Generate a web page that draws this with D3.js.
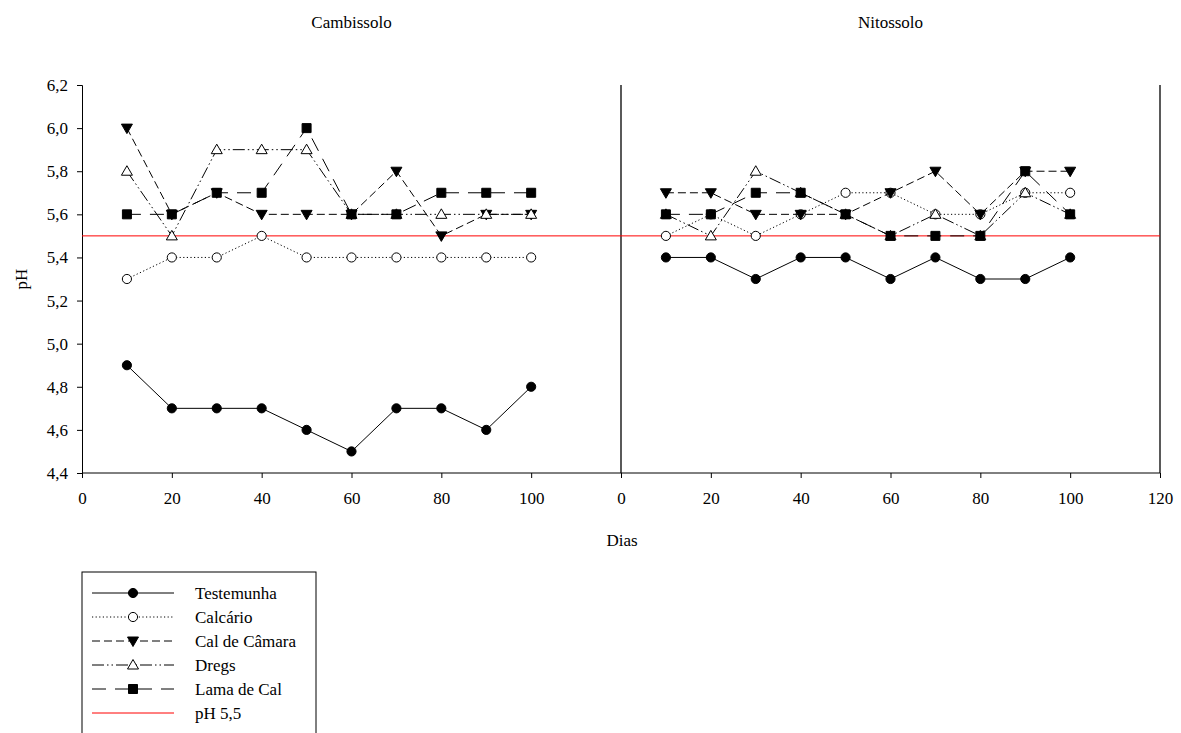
<!DOCTYPE html>
<html>
<head>
<meta charset="utf-8">
<script src="https://cdn.jsdelivr.net/npm/d3@7"></script>
<style>
  body { margin: 0; background: #fff; }
  svg { display: block; }
  text { font-family: "Liberation Serif", "Times New Roman", serif; fill: #000; }
</style>
</head>
<body>
<svg id="chart" width="1181" height="733"></svg>
<script>
// Sampling days
const dias = [10, 20, 30, 40, 50, 60, 70, 80, 90, 100];

// pH values, Cambissolo
const camTestemunha = [4.9, 4.7, 4.7, 4.7, 4.6, 4.5, 4.7, 4.7, 4.6, 4.8];
const camCalcario   = [5.3, 5.4, 5.4, 5.5, 5.4, 5.4, 5.4, 5.4, 5.4, 5.4];
const camCalCamara  = [6.0, 5.6, 5.7, 5.6, 5.6, 5.6, 5.8, 5.5, 5.6, 5.6];
const camDregs      = [5.8, 5.5, 5.9, 5.9, 5.9, 5.6, 5.6, 5.6, 5.6, 5.6];
const camLamaCal    = [5.6, 5.6, 5.7, 5.7, 6.0, 5.6, 5.6, 5.7, 5.7, 5.7];

// pH values, Nitossolo
const nitTestemunha = [5.4, 5.4, 5.3, 5.4, 5.4, 5.3, 5.4, 5.3, 5.3, 5.4];
const nitCalcario   = [5.5, 5.6, 5.5, 5.6, 5.7, 5.7, 5.6, 5.6, 5.7, 5.7];
const nitCalCamara  = [5.7, 5.7, 5.6, 5.6, 5.6, 5.7, 5.8, 5.6, 5.8, 5.8];
const nitDregs      = [5.6, 5.5, 5.8, 5.7, 5.6, 5.5, 5.6, 5.5, 5.7, 5.6];
const nitLamaCal    = [5.6, 5.6, 5.7, 5.7, 5.6, 5.5, 5.5, 5.5, 5.8, 5.6];

const seriesNames = ["Testemunha", "Calcário", "Cal de Câmara", "Dregs", "Lama de Cal"];
const panelTitles = ["Cambissolo", "Nitossolo"];
const refPH = 5.5;
const refLabel = "pH 5,5";

const yTicks = [4.4, 4.6, 4.8, 5.0, 5.2, 5.4, 5.6, 5.8, 6.0, 6.2];
const xTicksLeft = [0, 20, 40, 60, 80, 100];
const xTicksRight = [0, 20, 40, 60, 80, 100, 120];

// Line/marker styling per treatment
const styles = [
  { dash: null,                 marker: "circle",  fill: "#000" },
  { dash: "1.2,2.4",            marker: "circle",  fill: "#fff" },
  { dash: "8,4",                marker: "tridown", fill: "#000" },
  { dash: "12,3,1.5,3,1.5,3",   marker: "triup",   fill: "#fff" },
  { dash: "14,9",               marker: "square",  fill: "#000" }
];

const panels = [
  { title: panelTitles[0], data: [camTestemunha, camCalcario, camCalCamara, camDregs, camLamaCal], ticks: xTicksLeft },
  { title: panelTitles[1], data: [nitTestemunha, nitCalcario, nitCalCamara, nitDregs, nitLamaCal], ticks: xTicksRight }
];

const FONT = "17px";
const svg = d3.select("#chart");
const fmt = v => d3.format(".1f")(v).replace(".", ",");

const plotTop = 85, plotBottom = 473;
const x0 = 82, xMid = 621, x1 = 1160;
const y = d3.scaleLinear().domain([4.4, 6.2]).range([plotBottom, plotTop]);
const xScales = [
  d3.scaleLinear().domain([0, 120]).range([x0, xMid]),
  d3.scaleLinear().domain([0, 120]).range([xMid, x1])
];

function markerPath(type) {
  switch (type) {
    case "circle": return d3.symbol(d3.symbolCircle, 66)();
    case "square": return "M-4.5,-4.5H4.5V4.5H-4.5Z";
    case "triup": return "M0,-5.5L5.5,4L-5.5,4Z";
    case "tridown": return "M0,5.5L5.5,-4L-5.5,-4Z";
  }
}

// Y axis
const yAxis = d3.axisLeft(y).tickValues(yTicks).tickFormat(fmt).tickSize(5).tickPadding(9);
const gy = svg.append("g").attr("transform", `translate(${x0},0)`).call(yAxis);
gy.selectAll("text").style("font-size", FONT).style("font-family", "Liberation Serif");

// X axes
panels.forEach((p, i) => {
  const xAxis = d3.axisBottom(xScales[i]).tickValues(p.ticks).tickFormat(d3.format("d")).tickSize(5).tickPadding(14);
  const gx = svg.append("g").attr("transform", `translate(0,${plotBottom})`).call(xAxis);
  gx.select(".domain").remove();
  gx.selectAll("text").style("font-size", FONT).style("font-family", "Liberation Serif");
});
svg.append("line").attr("x1", x0).attr("x2", x1).attr("y1", plotBottom).attr("y2", plotBottom)
  .attr("stroke", "#000").attr("stroke-width", 1);

// Panel separators
[xMid, x1].forEach(xv => {
  svg.append("line").attr("x1", xv).attr("x2", xv).attr("y1", plotTop).attr("y2", plotBottom)
    .attr("stroke", "#000").attr("stroke-width", 1.3);
});

// Reference line pH 5.5
svg.append("line").attr("x1", x0).attr("x2", x1).attr("y1", y(refPH)).attr("y2", y(refPH))
  .attr("stroke", "#ff0000").attr("stroke-width", 1);

// Series
panels.forEach((p, i) => {
  const xs = xScales[i];
  const g = svg.append("g");
  p.data.forEach((vals, s) => {
    const pts = dias.map((d, k) => [d, vals[k]]);
    const line = d3.line().x(d => xs(d[0])).y(d => y(d[1]));
    g.append("path").attr("d", line(pts)).attr("fill", "none").attr("stroke", "#000")
      .attr("stroke-width", 1).attr("stroke-dasharray", styles[s].dash);
    g.selectAll(null).data(pts).enter().append("path")
      .attr("d", markerPath(styles[s].marker))
      .attr("transform", d => `translate(${xs(d[0])},${y(d[1])})`)
      .attr("fill", styles[s].fill).attr("stroke", "#000").attr("stroke-width", 1);
  });
  svg.append("text").attr("x", (xs.range()[0] + xs.range()[1]) / 2).attr("y", 28)
    .attr("text-anchor", "middle").style("font-size", FONT).text(p.title);
});

// Axis titles
svg.append("text").attr("x", 622).attr("y", 546).attr("text-anchor", "middle")
  .style("font-size", FONT).text("Dias");
svg.append("text").attr("transform", "translate(27,279) rotate(-90)").attr("text-anchor", "middle")
  .style("font-size", FONT).text("pH");

// Legend
const lg = svg.append("g");
lg.append("rect").attr("x", 82).attr("y", 572).attr("width", 234).attr("height", 180)
  .attr("fill", "none").attr("stroke", "#000").attr("stroke-width", 1);
const legendRows = seriesNames.map((n, s) => ({ name: n, style: styles[s] }))
  .concat([{ name: refLabel, style: null }]);
legendRows.forEach((r, k) => {
  const ly = 593 + k * 24;
  lg.append("line").attr("x1", 92).attr("x2", 174).attr("y1", ly).attr("y2", ly)
    .attr("stroke", r.style ? "#000" : "#ff0000").attr("stroke-width", 1)
    .attr("stroke-dasharray", r.style ? r.style.dash : null);
  if (r.style) {
    lg.append("path").attr("d", markerPath(r.style.marker))
      .attr("transform", `translate(133,${ly})`)
      .attr("fill", r.style.fill).attr("stroke", "#000").attr("stroke-width", 1);
  }
  lg.append("text").attr("x", 195).attr("y", ly + 6).style("font-size", FONT).text(r.name);
});
</script>
</body>
</html>
